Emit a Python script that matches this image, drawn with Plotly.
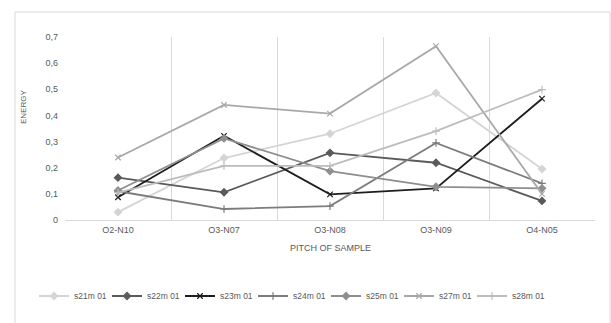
import plotly.graph_objects as go

categories = ["O2-N10", "O3-N07", "O3-N08", "O3-N09", "O4-N05"]
s21 = [0.03, 0.237, 0.33, 0.486, 0.195]
s22 = [0.162, 0.106, 0.257, 0.219, 0.073]
s23 = [0.087, 0.322, 0.098, 0.121, 0.464]
s24 = [0.11, 0.042, 0.053, 0.295, 0.14]
s25 = [0.113, 0.312, 0.187, 0.127, 0.121]
s27 = [0.239, 0.44, 0.407, 0.665, 0.1]
s28 = [0.105, 0.207, 0.207, 0.34, 0.499]

series = [
    ("s21m 01", s21, "#d4d4d4", "diamond"),
    ("s22m 01", s22, "#5a5a5a", "diamond"),
    ("s23m 01", s23, "#1e1e1e", "x-thin-open"),
    ("s24m 01", s24, "#7c7c7c", "cross-thin-open"),
    ("s25m 01", s25, "#8e8e8e", "diamond"),
    ("s27m 01", s27, "#a8a8a8", "x-thin-open"),
    ("s28m 01", s28, "#bcbcbc", "cross-thin-open"),
]

fig = go.Figure()
for name, vals, color, sym in series:
    fig.add_trace(go.Scatter(
        x=categories, y=vals, name=name, mode="lines+markers",
        line=dict(color=color, width=1.8),
        marker=dict(symbol=sym, size=5.5, color=color,
                    line=dict(color=color, width=1.2)),
    ))

L, R, T, B = 65, 16, 37, 103
W, H = 611, 323
pw = W - L - R
ph = H - T - B

def px(x):
    return (x - L) / pw

def py(y):
    return (H - B - y) / ph

font = "Liberation Sans"
fig.update_layout(
    width=W, height=H,
    margin=dict(l=L, r=R, t=T, b=B),
    paper_bgcolor="white", plot_bgcolor="white",
    separators=",.",
    font=dict(family=font, size=9, color="#595959"),
    showlegend=True,
    legend=dict(orientation="h", x=px(34), xanchor="left", y=py(296), yanchor="middle",
                font=dict(size=8.5, color="#595959"), itemwidth=30, tracegroupgap=0,
                entrywidth=28, entrywidthmode="pixels",
                bgcolor="rgba(0,0,0,0)"),
    xaxis=dict(type="category", tickson="boundaries", showgrid=True, range=[-0.5, 4.5],
               gridcolor="#d9d9d9", gridwidth=1, showline=True, linecolor="#d9d9d9",
               mirror=False, ticks="", tickfont=dict(size=9, color="#595959"), zeroline=False,
               ticklabelstandoff=1, fixedrange=True),
    yaxis=dict(range=[0, 0.7], dtick=0.1, showgrid=False, showline=False, ticks="",
               zeroline=False, tickfont=dict(size=9, color="#595959"),
               ticklabelstandoff=6),
    annotations=[
        dict(text="ENERGY", x=px(23), y=py(107), xref="paper", yref="paper",
             xanchor="center", yanchor="middle",
             textangle=-90, showarrow=False, font=dict(size=8, color="#595959")),
        dict(text="PITCH OF SAMPLE", x=px(330), y=py(248), xref="paper", yref="paper",
             xanchor="center", yanchor="middle",
             showarrow=False, font=dict(size=9, color="#595959")),
    ],
    shapes=[
        dict(type="rect", xref="paper", yref="paper", x0=px(15), x1=px(610),
             y0=py(330), y1=py(12), line=dict(color="#d9d9d9", width=1),
             fillcolor="rgba(0,0,0,0)", layer="below"),
    ],
)

fig.write_html("out.html")
